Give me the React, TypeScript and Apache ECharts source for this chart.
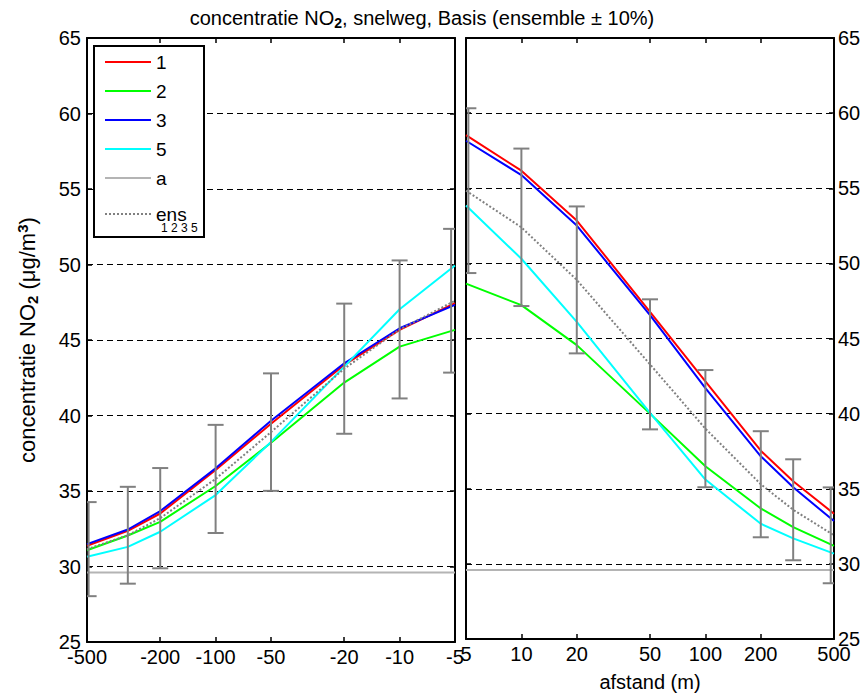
import React, { useEffect, useRef } from 'react';
import * as echarts from 'echarts';

// distances (m): left panel negative side, right panel positive side
const leftX = [-500, -300, -200, -100, -50, -20, -10, -5];
const rightX = [5, 10, 20, 50, 100, 200, 300, 500];
const leftTicks = [-500, -200, -100, -50, -20, -10, -5];
const rightTicks = [5, 10, 20, 50, 100, 200, 500];

// concentration NO2 (µg/m3)
const s1Left = [31.37, 32.36, 33.51, 36.39, 39.45, 43.35, 45.67, 47.44];
const s2Left = [31.08, 32.05, 32.96, 35.33, 38.2, 42.18, 44.56, 45.67];
const s3Left = [31.48, 32.45, 33.67, 36.5, 39.65, 43.46, 45.78, 47.33];
const s5Left = [30.64, 31.3, 32.3, 34.73, 38.25, 43.24, 47.04, 49.93];
const ensLeft = [31.15, 32.07, 33.2, 35.8, 38.9, 43.1, 45.7, 47.6];
const aLeft = [29.6, 29.6, 29.6, 29.6, 29.6, 29.6, 29.6, 29.6];

const s1Right = [58.53, 56.17, 52.85, 46.78, 42.14, 37.53, 35.5, 33.34];
const s2Right = [48.65, 47.22, 44.56, 40.0, 36.5, 33.69, 32.45, 31.2];
const s3Right = [58.16, 55.88, 52.52, 46.55, 41.7, 37.16, 35.1, 32.85];
const s5Right = [53.85, 50.31, 46.11, 40.05, 35.61, 32.67, 31.7, 30.68];
const ensRight = [54.84, 52.4, 48.9, 43.28, 39.0, 35.3, 33.6, 31.9];
const aRight = [29.6, 29.6, 29.6, 29.6, 29.6, 29.6, 29.6, 29.6];

// error bars: ensemble +/- 10 %, drawn at (slightly nudged) distances
const errXLeft = [-490, -300, -200, -100, -50, -20, -10, -5.25];
const errXRight = [5.15, 10, 20, 50, 100, 200, 300, 480];
const errFraction = 0.1;

const FONT = 'Liberation Sans, Arial, Helvetica, sans-serif';
const lx = (d: number) => Math.log10(Math.abs(d));

const mkLine = (
  name: string,
  xs: number[],
  ys: number[],
  color: string,
  panel: number,
  z: number,
  type: any = 'solid'
) => ({
  name,
  type: 'line',
  xAxisIndex: panel * 2,
  yAxisIndex: panel * 2,
  data: xs.map((x, i) => [lx(x), ys[i]]),
  symbol: 'none',
  showSymbol: false,
  silent: true,
  z,
  lineStyle: { color, width: 2, type },
  itemStyle: { color },
});

const mkErr = (xs: number[], ens: number[], panel: number) => ({
  name: 'err' + panel,
  type: 'custom',
  xAxisIndex: panel * 2,
  yAxisIndex: panel * 2,
  clip: true,
  silent: true,
  z: 6,
  data: xs.map((x, i) => [lx(x), ens[i] * (1 - errFraction), ens[i] * (1 + errFraction)]),
  encode: { x: 0, y: [1, 2] },
  renderItem: (params: any, api: any) => {
    const x = api.value(0);
    const p1 = api.coord([x, api.value(1)]);
    const p2 = api.coord([x, api.value(2)]);
    const w = 8;
    const st = { stroke: '#808080', lineWidth: 2 };
    return {
      type: 'group',
      children: [
        { type: 'line', shape: { x1: p1[0], y1: p1[1], x2: p2[0], y2: p2[1] }, style: st },
        { type: 'line', shape: { x1: p1[0] - w, y1: p1[1], x2: p1[0] + w, y2: p1[1] }, style: st },
        { type: 'line', shape: { x1: p2[0] - w, y1: p2[1], x2: p2[0] + w, y2: p2[1] }, style: st },
      ],
    };
  },
});

const axisLine = { show: true, onZero: false, lineStyle: { color: '#000', width: 2 } };
const tickIn = { show: true, inside: true, length: 5, lineStyle: { color: '#000', width: 1.5 } };

const mkX = (grid: number, ticks: number[], inverse: boolean, top: boolean, neg: boolean, name?: string) => ({
  type: 'value',
  gridIndex: grid,
  position: top ? 'top' : 'bottom',
  min: lx(5),
  max: lx(500),
  inverse,
  axisLine,
  axisTick: { ...tickIn, customValues: ticks.map(lx) },
  axisLabel: top
    ? { show: false }
    : {
        show: true,
        customValues: ticks.map(lx),
        margin: 5,
        color: '#000',
        fontSize: 20,
        fontFamily: FONT,
        formatter: (v: number) => (neg ? '-' : '') + String(Math.round(Math.pow(10, v))),
      },
  splitLine: { show: false },
  name: name || '',
  nameLocation: 'middle',
  nameGap: 33,
  nameTextStyle: { fontSize: 20, color: '#000', fontFamily: FONT },
});

const mkY = (grid: number, pos: string, labels: boolean, extra: any = {}) => ({
  type: 'value',
  gridIndex: grid,
  position: pos,
  min: 25,
  max: 65,
  interval: 5,
  axisLine,
  axisTick: tickIn,
  axisLabel: labels
    ? { show: true, color: '#000', fontSize: 20, fontFamily: FONT, margin: pos === 'left' ? 6 : 4 }
    : { show: false },
  splitLine: labels
    ? { show: true, lineStyle: { color: '#000', width: 1, type: [6, 4] } }
    : { show: false },
  ...extra,
});

const legendCommon = {
  orient: 'vertical',
  left: 104,
  padding: 0,
  itemWidth: 46,
  itemHeight: 2,
  selectedMode: false,
  z: 8,
  itemStyle: { opacity: 0 },
};

const option: any = {
  animation: false,
  backgroundColor: '#fff',
  textStyle: { fontFamily: FONT },
  title: {
    text: 'concentratie NO{s|2}, snelweg, Basis (ensemble ± 10%)',
    left: 422,
    textAlign: 'center',
    top: 7,
    padding: 0,
    textStyle: {
      fontSize: 20,
      fontWeight: 'normal',
      color: '#000',
      fontFamily: FONT,
      lineHeight: 22,
      rich: {
        s: { fontSize: 14, fontWeight: 'bold', color: '#000', fontFamily: FONT, lineHeight: 14, padding: [10, 0, 0, 0] },
      },
    },
  },
  grid: [
    { left: 87, top: 38, width: 368, height: 604, containLabel: false },
    { left: 466, top: 38, width: 368, height: 604, containLabel: false },
  ],
  xAxis: [
    mkX(0, leftTicks, true, false, true),
    mkX(0, leftTicks, true, true, true),
    mkX(1, rightTicks, false, false, false, 'afstand (m)'),
    mkX(1, rightTicks, false, true, false),
  ],
  yAxis: [
    mkY(0, 'left', true, {
      name: 'concentratie NO{s|2} (μg/m{p|3})',
      nameLocation: 'middle',
      nameRotate: 90,
      nameGap: 48,
      nameTextStyle: {
        fontSize: 22,
        color: '#000',
        fontFamily: FONT,
        lineHeight: 24,
        rich: {
          s: { fontSize: 15, fontWeight: 'bold', color: '#000', fontFamily: FONT, lineHeight: 15, padding: [10, 0, 0, 0] },
          p: { fontSize: 15, fontWeight: 'bold', color: '#000', fontFamily: FONT, lineHeight: 15, padding: [0, 0, 10, 0] },
        },
      },
    }),
    mkY(0, 'right', false),
    mkY(1, 'right', true),
    mkY(1, 'left', false),
  ],
  legend: [
    {
      ...legendCommon,
      data: ['1', '2', '3', '5', 'a'],
      top: 52,
      itemGap: 9,
      textStyle: { fontSize: 19, color: '#000', fontFamily: FONT, lineHeight: 20 },
    },
    {
      ...legendCommon,
      data: ['ens'],
      top: 202,
      textStyle: { fontSize: 19, color: '#000', fontFamily: FONT, lineHeight: 16, padding: [0, 0, 8, 0] },
    },
  ],
  graphic: [
    {
      type: 'rect',
      z: 7,
      shape: { x: 94, y: 46, width: 110, height: 191 },
      style: { fill: '#fff', stroke: '#000', lineWidth: 2 },
    },
    {
      type: 'text',
      z: 9,
      x: 161,
      y: 222,
      style: { text: '1 2 3 5', fontSize: 12, fill: '#000', fontFamily: FONT },
    },
  ],
  series: [
    mkLine('1', leftX, s1Left, '#ff0000', 0, 2),
    mkLine('2', leftX, s2Left, '#00ff00', 0, 2),
    mkLine('3', leftX, s3Left, '#0000ff', 0, 2),
    mkLine('5', leftX, s5Left, '#00ffff', 0, 2),
    mkLine('a', leftX, aLeft, '#b4b4b4', 0, 2),
    mkLine('ens', leftX, ensLeft, '#808080', 0, 3, [2, 2]),
    mkLine('1', rightX, s1Right, '#ff0000', 1, 2),
    mkLine('2', rightX, s2Right, '#00ff00', 1, 2),
    mkLine('3', rightX, s3Right, '#0000ff', 1, 2),
    mkLine('5', rightX, s5Right, '#00ffff', 1, 2),
    mkLine('a', rightX, aRight, '#b4b4b4', 1, 2),
    mkLine('ens', rightX, ensRight, '#808080', 1, 3, [2, 2]),
    mkErr(errXLeft, ensLeft, 0),
    mkErr(errXRight, ensRight, 1),
  ],
};

export default function App() {
  const ref = useRef<HTMLDivElement>(null);
  useEffect(() => {
    const chart = echarts.init(ref.current!, null, { renderer: 'svg' });
    chart.setOption(option);
    return () => chart.dispose();
  }, []);
  return (
    <div
      ref={ref}
      style={{ position: 'fixed', left: 0, top: 0, width: 864, height: 697, background: '#fff' }}
    />
  );
}
